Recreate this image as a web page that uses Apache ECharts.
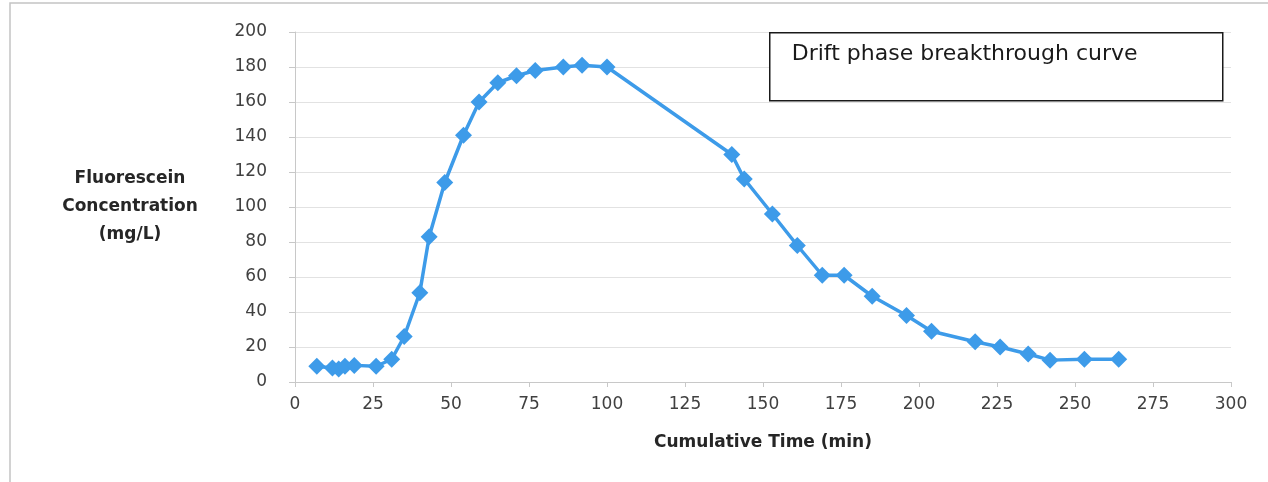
<!DOCTYPE html>
<html>
<head>
<meta charset="utf-8">
<script src="https://cdn.jsdelivr.net/npm/echarts@6/dist/echarts.min.js"></script>
<style>
  html, body { margin: 0; padding: 0; background: #fff; }
  #chart { width: 1268px; height: 482px; }
</style>
</head>
<body>
<div id="chart"></div>
<script>
// cumulative time (min) and fluorescein concentration (mg/L)
var timeMin = [7, 12, 14, 16, 19, 26, 31, 35, 40, 43, 48, 54, 59, 65, 71, 77, 86, 92, 100,
               140, 144, 153, 161, 169, 176, 185, 196, 204, 218, 226, 235, 242, 253, 264];
var concMgL = [9, 8, 7.5, 9, 9.5, 9, 13, 26, 51, 83, 114, 141, 160, 171, 175, 178, 180, 181, 180,
               130, 116, 96, 78, 61, 61, 49, 38, 29, 23, 20, 16, 12.5, 13, 13];
var xTicks = [0, 25, 50, 75, 100, 125, 150, 175, 200, 225, 250, 275, 300];
var yTicks = [0, 20, 40, 60, 80, 100, 120, 140, 160, 180, 200];
var boxTitle = 'Drift phase breakthrough curve';

var myChart = echarts.init(document.getElementById('chart'));

var points = timeMin.map(function (t, i) { return [t, concMgL[i]]; });
var fontFam = '"DejaVu Sans", sans-serif';

var option = {
    backgroundColor: '#fff',
    animation: false,
    grid: { left: 295, right: 37, top: 32, bottom: 100 },
    xAxis: {
        type: 'value',
        min: xTicks[0],
        max: xTicks[xTicks.length - 1],
        interval: 25,
        name: 'Cumulative Time (min)',
        nameLocation: 'middle',
        nameGap: 52,
        nameTextStyle: { color: '#262626', fontSize: 17, fontWeight: 'bold', fontFamily: fontFam },
        axisLine: { lineStyle: { color: '#c8c8c8' } },
        axisTick: { show: true, length: 5, lineStyle: { color: '#c8c8c8' } },
        axisLabel: { color: '#404040', fontSize: 17, fontFamily: fontFam, margin: 14 },
        splitLine: { show: false }
    },
    yAxis: {
        type: 'value',
        min: yTicks[0],
        max: yTicks[yTicks.length - 1],
        interval: 20,
        name: 'Fluorescein\nConcentration\n(mg/L)',
        nameLocation: 'middle',
        nameRotate: 0,
        nameGap: 165,
        nameTextStyle: { color: '#262626', fontSize: 17, fontWeight: 'bold', fontFamily: fontFam,
                         align: 'center', lineHeight: 28, padding: [20, 0, 0, 0] },
        axisLine: { show: true, lineStyle: { color: '#c8c8c8' } },
        axisTick: { show: true, length: 6, lineStyle: { color: '#c8c8c8' } },
        axisLabel: { color: '#404040', fontSize: 17, fontFamily: fontFam, margin: 28 },
        splitLine: { show: true, lineStyle: { color: '#e2e2e2' } }
    },
    graphic: [
        {
            type: 'rect',
            shape: { x: 10, y: 3, width: 1300, height: 520 },
            style: { fill: 'none', stroke: '#c4c4c4', lineWidth: 1.5 },
            silent: true
        },
        {
            type: 'group',
            left: 769,
            top: 32,
            z: 100,
            children: [
                {
                    type: 'rect',
                    z: 100,
                    shape: { x: 0, y: 0, width: 453, height: 68 },
                    style: { fill: '#fff', stroke: '#1a1a1a', lineWidth: 1.5 }
                },
                {
                    type: 'text',
                    z: 101,
                    x: 22, y: 11,
                    style: { text: boxTitle, fill: '#1a1a1a', font: '22px ' + fontFam }
                }
            ]
        }
    ],
    series: [
        {
            name: 'Fluorescein',
            type: 'line',
            data: points,
            symbol: 'diamond',
            symbolSize: [17, 17],
            lineStyle: { color: '#3d9be9', width: 3.5 },
            itemStyle: { color: '#3d9be9' },
            z: 3
        }
    ]
};

myChart.setOption(option);
</script>
</body>
</html>
